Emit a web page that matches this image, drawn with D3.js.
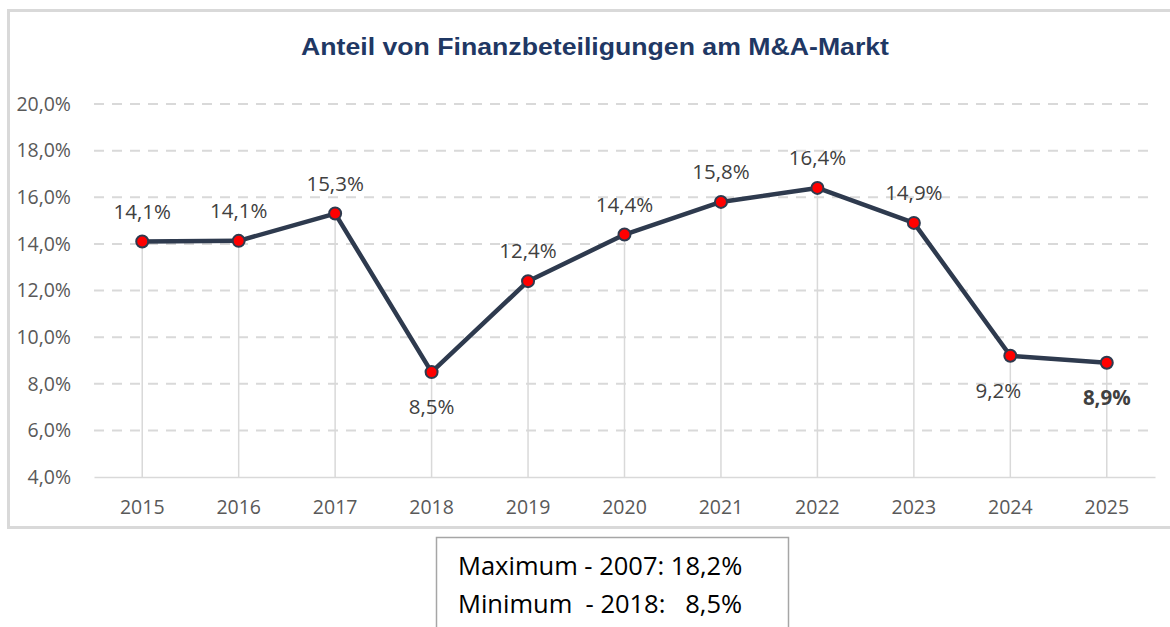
<!DOCTYPE html>
<html>
<head>
<meta charset="utf-8">
<script src="https://cdn.jsdelivr.net/npm/d3@7"></script>
<style>
  body { margin: 0; background: #fff; }
  svg { display: block; }
</style>
</head>
<body>
<svg width="1170" height="627"></svg>
<script>
var years = ["2015", "2016", "2017", "2018", "2019", "2020", "2021", "2022", "2023", "2024", "2025"];
var shares = [14.1, 14.13, 15.3, 8.5, 12.4, 14.4, 15.8, 16.4, 14.9, 9.2, 8.9];
var labelBelow = ["2018", "2024", "2025"];
var yTicks = [4, 6, 8, 10, 12, 14, 16, 18, 20];
var noteLines = ["Maximum - 2007: 18,2%", "Minimum  - 2018:   8,5%"];

var svg = d3.select("svg"),
  margin = {top: 104, right: 15, bottom: 150, left: 94},
  width = +svg.attr("width") - margin.left - margin.right,
  height = +svg.attr("height") - margin.top - margin.bottom;

var fmt = function(v) { return d3.format(".1f")(v).replace(".", ",") + "%"; };

// outer chart frame
svg.append("rect")
  .attr("x", 8.5).attr("y", 10.5)
  .attr("width", 1175).attr("height", 517)
  .attr("fill", "#fff")
  .attr("stroke", "#d9d9d9")
  .attr("stroke-width", 3);

svg.append("text")
  .attr("x", 595).attr("y", 55)
  .attr("text-anchor", "middle")
  .attr("font-family", "Liberation Sans, Arial, sans-serif")
  .attr("font-weight", "bold")
  .attr("font-size", 23)
  .attr("fill", "#1f3864")
  .attr("textLength", 588)
  .attr("lengthAdjust", "spacingAndGlyphs")
  .text("Anteil von Finanzbeteiligungen am M&A-Markt");

var g = svg.append("g").attr("transform", "translate(" + margin.left + "," + margin.top + ")");

var x = d3.scaleBand().domain(years).range([0, width]).padding(0);
var y = d3.scaleLinear().domain([4, 20]).range([height, 0]);

// gridlines
g.append("g")
  .selectAll("line")
  .data(yTicks.slice(1))
  .enter().append("line")
    .attr("x1", 0).attr("x2", width)
    .attr("y1", function(d) { return y(d); })
    .attr("y2", function(d) { return y(d); })
    .attr("stroke", "#d9d9d9")
    .attr("stroke-width", 2)
    .attr("stroke-dasharray", "10,8");

// y axis labels
var yAxis = g.append("g")
  .call(d3.axisLeft(y).tickValues(yTicks).tickSize(0).tickPadding(23).tickFormat(fmt));
yAxis.select(".domain").remove();
yAxis.selectAll("text")
  .attr("font-family", "Open Sans, sans-serif")
  .attr("font-size", 19.5)
  .attr("fill", "#595959");

// x axis
var xAxis = g.append("g")
  .attr("transform", "translate(0," + height + ")")
  .call(d3.axisBottom(x).tickSize(0).tickPadding(23));
xAxis.select(".domain").attr("stroke", "#d9d9d9").attr("stroke-width", 1.5);
xAxis.selectAll("text")
  .attr("font-family", "Open Sans, sans-serif")
  .attr("font-size", 19.5)
  .attr("fill", "#595959");

var cx = function(d, i) { return x(years[i]) + x.bandwidth() / 2; };

// drop lines
g.append("g")
  .selectAll("line")
  .data(shares)
  .enter().append("line")
    .attr("x1", cx).attr("x2", cx)
    .attr("y1", function(d) { return y(d); })
    .attr("y2", height)
    .attr("stroke", "#d9d9d9")
    .attr("stroke-width", 1.5);

var line = d3.line()
  .x(cx)
  .y(function(d) { return y(d); });

g.append("path")
  .datum(shares)
  .attr("d", line)
  .attr("fill", "none")
  .attr("stroke", "#2e3a4e")
  .attr("stroke-width", 4.5)
  .attr("stroke-linejoin", "round");

g.append("g")
  .selectAll("circle")
  .data(shares)
  .enter().append("circle")
    .attr("cx", cx)
    .attr("cy", function(d) { return y(d); })
    .attr("r", 6)
    .attr("fill", "#ff0000")
    .attr("stroke", "#2e3a4e")
    .attr("stroke-width", 2);

g.append("g")
  .selectAll("text")
  .data(shares)
  .enter().append("text")
    .attr("x", function(d, i) { return cx(d, i) + (years[i] == "2024" ? -12 : 0); })
    .attr("y", function(d, i) {
      return labelBelow.indexOf(years[i]) >= 0 ? y(d) + 42 : y(d) - 23;
    })
    .attr("text-anchor", "middle")
    .attr("font-family", "Open Sans, sans-serif")
    .attr("font-size", 20.5)
    .attr("font-weight", function(d, i) { return years[i] == "2025" ? "bold" : null; })
    .attr("fill", "#404040")
    .text(fmt);

// note box below chart
var note = svg.append("g").attr("transform", "translate(436,537)");
note.append("rect")
  .attr("x", 0.5).attr("y", 0.5)
  .attr("width", 352).attr("height", 100)
  .attr("fill", "#fff")
  .attr("stroke", "#a6a6a6")
  .attr("stroke-width", 1.5);
note.selectAll("text")
  .data(noteLines)
  .enter().append("text")
    .attr("x", 22)
    .attr("y", function(d, i) { return 38 + i * 38; })
    .attr("font-family", "Open Sans, sans-serif")
    .attr("font-size", 25.5)
    .attr("fill", "#000")
    .attr("xml:space", "preserve")
    .style("white-space", "pre")
    .text(function(d) { return d; });
</script>
</body>
</html>
